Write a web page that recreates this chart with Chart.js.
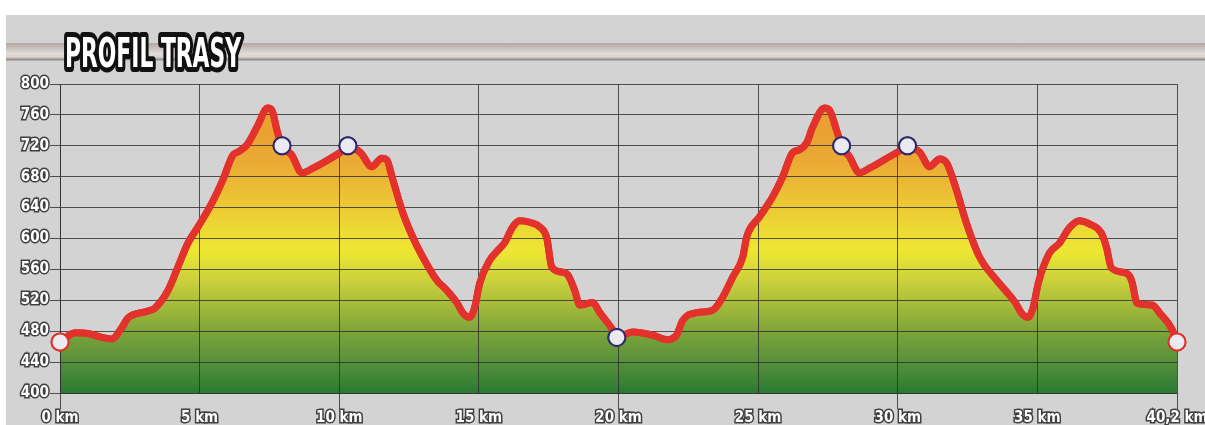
<!DOCTYPE html>
<html>
<head>
<meta charset="UTF-8">
<title>Profil trasy</title>
<script src="https://cdn.jsdelivr.net/npm/chart.js@4.4.1/dist/chart.umd.min.js"></script>
<style>
    html, body { margin: 0; padding: 0; background: #fff; }
    #wrap { position: relative; width: 1205px; height: 425px; overflow: hidden; }
    #panel { position: absolute; left: 6px; top: 15px; right: 0; bottom: 0; background: #d4d3d4; }
    #pipe {
        position: absolute; left: 6px; right: 0; top: 43px; height: 18px;
        background: linear-gradient(to bottom, #b2a8a4 0%, #c9c2bf 30%, #e0dcda 58%, #d8d3d1 78%, #978d89 92%, #c4c0bf 100%);
    }
    #chart { position: absolute; left: 0; top: 0; }
</style>
</head>
<body>
<div id="wrap">
    <div id="panel"></div>
    <div id="pipe"></div>
    <canvas id="chart" width="1205" height="425"></canvas>
</div>
<script>
// profil trasy - two laps, km / m n.m.
var titleText = "PROFIL TRASY";

var distanceKm = [
    0, 0.54, 1.0, 1.5, 1.86, 2.22, 2.43, 3.15, 3.40, 3.87, 4.22, 4.58, 4.94, 5.44, 5.83,
    6.19, 6.37, 6.69, 7.05, 7.44, 7.59, 7.77, 7.95, 8.30, 8.66, 9.06, 10.02, 10.31, 10.74,
    11.17, 11.52, 11.70, 11.92, 12.28, 12.63, 12.99, 13.49, 13.85, 14.21, 14.42, 14.67,
    14.85, 15.03, 15.39, 15.64, 15.93, 16.21, 16.46, 16.82, 17.18, 17.43, 17.61, 17.90,
    18.18, 18.43, 18.61, 19.08, 19.33, 19.79, 19.94,
    20.51, 21.22, 21.76, 22.08, 22.30, 22.80, 23.37, 23.73, 24.09, 24.45, 24.59, 25.05,
    25.52, 25.88, 26.23, 26.49, 26.74, 26.95, 27.38, 27.56, 27.81, 27.99, 28.27, 28.63,
    28.99, 29.96, 30.35, 30.78, 31.14, 31.50, 31.75, 32.10, 32.46, 32.93, 33.54, 33.85,
    34.21, 34.42, 34.67, 34.85, 35.03, 35.43, 35.79, 36.15, 36.51, 36.86, 37.29, 37.47,
    37.65, 38.19, 38.37, 38.58, 39.12, 39.37, 39.80, 40.0
];
var elevationM = [
    466, 478, 477, 472, 470, 485, 497, 506, 510, 533, 563, 594, 615, 646, 676,
    708, 712, 721, 744, 769, 766, 740, 720, 708, 685, 691, 711, 718, 712,
    693, 704, 702, 676, 633, 602, 576, 546, 533, 517, 504, 498,
    511, 542, 572, 583, 595, 615, 623, 621, 615, 601, 563, 557,
    553, 533, 514, 517, 504, 482, 472,
    479, 475, 469, 475, 494, 504, 507, 524, 550, 576, 602, 628,
    654, 680, 711, 715, 724, 744, 769, 766, 740, 720, 706, 685,
    691, 711, 718, 712, 693, 703, 698, 663, 620, 576, 546, 533,
    517, 504, 498, 511, 542, 581, 594, 614, 623, 619, 607, 589,
    562, 555, 546, 516, 514, 504, 484, 466
];

// checkpoints (start/finish + refreshments)
var markerKm = [0, 7.95, 10.31, 19.94, 27.99, 30.35, 40];
var markerM = [466, 720, 720, 472, 720, 720, 466];

var kmLabels = ["0 km", "5 km", "10 km", "15 km", "20 km", "25 km", "30 km", "35 km", "40,2 km"];

var profile = distanceKm.map(function (d, i) { return { x: d, y: elevationM[i] }; });
var markers = markerKm.map(function (d, i) { return { x: d, y: markerM[i] }; });

var gridColor = "rgba(45,45,45,0.8)";
var lineRed = "#e3312b";

function fillGradient(context) {
    var chart = context.chart;
    var area = chart.chartArea;
    if (!area) return null;
    var g = chart.ctx.createLinearGradient(0, area.top, 0, area.bottom);
    g.addColorStop(0, "#e8962e");
    g.addColorStop(0.25, "#eba935");
    g.addColorStop(0.45, "#ecd534");
    g.addColorStop(0.54, "#eee733");
    g.addColorStop(0.64, "#c9d03b");
    g.addColorStop(0.78, "#86a93a");
    g.addColorStop(0.9, "#56903a");
    g.addColorStop(1, "#2b7a33");
    return g;
}

var onTop = {
    id: "onTop",
    afterDraw: function (chart) {
        // grid sits over the fill, so put line + points back on top
        chart.getDatasetMeta(1).controller.draw();
        chart.getDatasetMeta(0).controller.draw();

        var ctx = chart.ctx;
        ctx.save();
        ctx.font = "bold 41px 'DejaVu Sans Condensed'";
        var w = ctx.measureText(titleText).width;
        ctx.translate(65, 67);
        ctx.scale(176 / w, 1);
        ctx.lineJoin = "round";
        ctx.lineWidth = 10;
        ctx.strokeStyle = "#111";
        ctx.strokeText(titleText, 0, 0);
        ctx.fillStyle = "#fff";
        ctx.fillText(titleText, 0, 0);
        ctx.restore();
    }
};

var tickFont = { family: "'DejaVu Sans Condensed'", weight: "bold", size: 15 };

var config = {
    type: "line",
    data: {
        datasets: [{
            data: markers,
            showLine: false,
            pointRadius: 8.5,
            pointBorderWidth: 2,
            pointBackgroundColor: "#ebeaf0",
            pointBorderColor: function (c) {
                return (c.dataIndex === 0 || c.dataIndex === markerKm.length - 1) ? lineRed : "#2e2a6e";
            },
            clip: false
        }, {
            data: profile,
            borderColor: lineRed,
            borderWidth: 7,
            borderCapStyle: "round",
            borderJoinStyle: "round",
            pointRadius: 0,
            fill: false,
            cubicInterpolationMode: "monotone",
            clip: false
        }, {
            data: profile,
            borderWidth: 0,
            borderColor: "rgba(0,0,0,0)",
            pointRadius: 0,
            fill: "start",
            backgroundColor: fillGradient,
            cubicInterpolationMode: "monotone"
        }]
    },
    options: {
        responsive: false,
        animation: false,
        devicePixelRatio: 1,
        layout: { padding: { top: 84, right: 28, left: 0, bottom: 0 } },
        plugins: {
            legend: { display: false },
            tooltip: { enabled: false }
        },
        scales: {
            x: {
                type: "linear",
                min: 0,
                max: 40,
                afterFit: function (s) { s.height = 32; s.paddingLeft = 0; s.paddingRight = 0; },
                ticks: {
                    stepSize: 5,
                    autoSkip: false,
                    maxRotation: 0,
                    padding: 0,
                    font: tickFont,
                    color: "#fff",
                    textStrokeColor: "#404040",
                    textStrokeWidth: 3,
                    callback: function (v) { return kmLabels[Math.round(v / 5)]; }
                },
                grid: {
                    z: 1,
                    color: gridColor,
                    tickLength: 16,
                    tickColor: function (c) {
                        return (c.tick && c.tick.value % 10 === 0) ? gridColor : "rgba(0,0,0,0)";
                    }
                },
                // border after the grid, otherwise its position is not known yet
                border: { color: gridColor, z: 2 }
            },
            y: {
                min: 400,
                max: 800,
                afterFit: function (s) { s.width = 60; },
                ticks: {
                    stepSize: 40,
                    padding: 1,
                    font: tickFont,
                    color: "#fff",
                    textStrokeColor: "#404040",
                    textStrokeWidth: 3
                },
                grid: {
                    z: 1,
                    color: gridColor,
                    tickLength: 10
                },
                border: { color: gridColor, z: 2 }
            }
        }
    },
    plugins: [onTop]
};

var ctx = document.getElementById("chart").getContext("2d");
window.profilChart = new Chart(ctx, config);
</script>
</body>
</html>
